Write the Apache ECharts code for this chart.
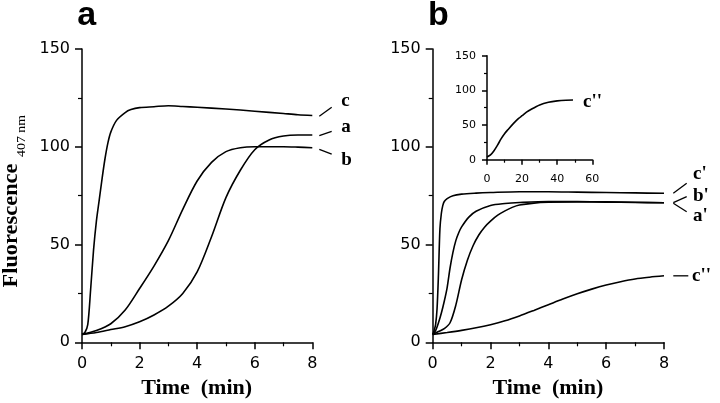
<!DOCTYPE html>
<html><head><meta charset="utf-8">
<script src="https://cdn.jsdelivr.net/npm/echarts/dist/echarts.min.js"></script>
<style>html,body{margin:0;padding:0;background:#fff}#c{width:720px;height:403px}</style>
</head><body><div id="c"></div>
<script>
// ---------- Panel a ----------
const tC = [0,0.1,0.2,0.3,0.4,0.5,0.6,0.7,0.8,0.9,1.0,1.2,1.5,1.7,2.0,2.5,3.0,3.5,4,5,6,7,7.5,8];
const vC = [4,5,9,27,47,62,73,84,94,102,107.5,113.5,117.5,119,120,120.5,121,120.6,120.2,119.3,118.2,117,116.4,116];
const tAB = [0,0.5,1,1.5,2,2.5,3,3.5,4,4.5,5,5.5,6,6.5,7,7.5,8];
const vB = [4,6,9.5,16.5,27.5,39,52,68,82.5,92,97.5,99.5,100,100,100,99.8,99.5];
const vA = [4,5,6.5,8,10.5,14,18.5,25,36,54,74,88,98.5,103.5,105.5,106,106];
// ---------- Panel b ----------
const tC1 = [0,0.05,0.1,0.15,0.2,0.25,0.3,0.35,0.4,0.5,0.7,1,1.5,2,3,4,5,6,7,8];
const vC1 = [4,6,9,17,35,58,66,70,72,73.5,75,75.8,76.3,76.6,77,77,76.8,76.6,76.4,76.2];
const tB1 = [0,0.1,0.2,0.3,0.4,0.5,0.6,0.7,0.8,0.9,1.0,1.25,1.5,2,2.5,3,4,5,6,7,8];
const vB1 = [4,6,10,15,21,28,38,46,52,56,59,64,67,70,71,71.5,72,72,71.8,71.6,71.4];
const tA1 = [0,0.2,0.4,0.6,0.8,1.0,1.2,1.4,1.6,1.8,2,2.25,2.5,2.75,3,3.5,4,5,6,7,8];
const vA1 = [4,5.5,7,10,19,32,42,49.5,55,59,62,65,67.2,69,70.2,71.2,71.6,71.8,71.7,71.5,71.4];
const tC2 = [0,0.5,1,1.5,2,2.5,3,3.5,4,4.5,5,5.5,6,6.5,7,7.5,8];
const vC2 = [4,5,6.1,7.4,9,11,13.5,16.3,19.2,22.1,24.8,27.2,29.3,31,32.4,33.3,34];
// ---------- Inset ----------
const tIn = [0,2,4,6,8,10,12,15,18,20,22.5,25,30,35,40,45,49];
const vIn = [4,7,13,21,30,37.5,43.5,52,59.5,63.5,68.5,72.5,79,82.8,84.8,85.8,86];

const panelLetters = ['a','b'];
const xTitle = 'Time  (min)';
const yTitle = 'Fluorescence';
const ySub = '407 nm';

const zip = (t, v) => t.map((x, i) => [x, v[i]]);
const chart = echarts.init(document.getElementById('c'), null, {renderer:'canvas'});

function xAx(gi, max, interval, fs, tl, ml, margin) {
  return {type:'value', gridIndex:gi, min:0, max:max, interval:interval,
    axisLine:{show:true, onZero:false, lineStyle:{color:'#000', width:1.5}},
    axisTick:{show:true, inside:false, length:tl, lineStyle:{color:'#000', width:1.5}},
    minorTick:{show:true, splitNumber:2, length:ml, lineStyle:{color:'#000', width:1.2}},
    axisLabel:{color:'#000', fontFamily:'DejaVu Sans', fontSize:fs, margin:margin, showMinLabel:true, showMaxLabel:true, hideOverlap:false},
    splitLine:{show:false}, minorSplitLine:{show:false}};
}
function yAx(gi, fs, tl, ml, margin) {
  return {type:'value', gridIndex:gi, min:0, max:150, interval:50,
    axisLine:{show:true, onZero:false, lineStyle:{color:'#000', width:1.5}},
    axisTick:{show:true, inside:false, length:tl, lineStyle:{color:'#000', width:1.5}},
    minorTick:{show:true, splitNumber:2, length:ml, lineStyle:{color:'#000', width:1.2}},
    axisLabel:{color:'#000', fontFamily:'DejaVu Sans', fontSize:fs, margin:margin, showMinLabel:true, showMaxLabel:true, hideOverlap:false},
    splitLine:{show:false}, minorSplitLine:{show:false}};
}
function ser(gi, t, v) {
  return {type:'line', xAxisIndex:gi, yAxisIndex:gi, data:zip(t, v), symbol:'none',
    smooth:0.3, lineStyle:{color:'#000', width:1.6}, silent:true};
}

chart.setOption({
  animation:false,
  backgroundColor:'#fff',
  grid:[
    {left:82, top:49, width:230.3, height:293.3},
    {left:432.7, top:49, width:231.3, height:293.3},
    {left:487, top:55.7, width:105.3, height:104}
  ],
  xAxis:[xAx(0,8,2,16,7,4,14), xAx(1,8,2,16,7,4,14), xAx(2,60,20,11,5,3,14)],
  yAxis:[yAx(0,16,7,4,12), yAx(1,16,7,4,12), yAx(2,11,5,3,11)],
  series:[
    ser(0,tC,vC), ser(0,tAB,vA), ser(0,tAB,vB),
    ser(1,tC1,vC1), ser(1,tB1,vB1), ser(1,tA1,vA1), ser(1,tC2,vC2),
    ser(2,tIn,vIn)
  ]
});

const px = (gi, p) => chart.convertToPixel({gridIndex:gi}, p);
const last = a => a[a.length-1];
const lblFont = 'bold 19px "Liberation Serif"';
const annots = [
  {gi:0, end:[last(tC), last(vC)], l:[[7,0.7],[19.4,-8.3]], txt:'c', o:[29,-14.7]},
  {gi:0, end:[last(tAB), last(vA)], l:[[7,0.7],[19.4,-3.6]], txt:'a', o:[29,-7.7]},
  {gi:0, end:[last(tAB), last(vB)], l:[[7,1.6],[19.4,6.3]], txt:'b', o:[29,11.9]},
  {gi:1, end:[last(tC1), last(vC1)], l:[[9.3,0],[22.7,-10]], txt:"c'", o:[29,-19.7]},
  {gi:1, end:[last(tB1), last(vB1)], l:[[9.3,0],[22.7,-6]], txt:"b'", o:[29,-6.1]},
  {gi:1, end:[last(tA1), last(vA1)], l:[[9.3,0.6],[22.7,9]], txt:"a'", o:[29,13.9]},
  {gi:1, end:[last(tC2), last(vC2)], l:[[9.3,0],[24.3,0]], txt:"c''", o:[28,0.6]},
  {gi:2, end:[last(tIn), last(vIn)], l:null, txt:"c''", o:[10,1.6]}
];
const g = [];
annots.forEach(a => {
  const p = px(a.gi, a.end);
  if (a.l) g.push({type:'line', silent:true, shape:{x1:p[0]+a.l[0][0], y1:p[1]+a.l[0][1], x2:p[0]+a.l[1][0], y2:p[1]+a.l[1][1]}, style:{stroke:'#000', lineWidth:1.3}});
  g.push({type:'text', silent:true, x:p[0]+a.o[0], y:p[1]+a.o[1], style:{text:a.txt, font:lblFont, fill:'#000', align:'left', verticalAlign:'middle'}});
});
// panel letters
const pa0 = px(0,[0,150]), pa1 = px(1,[0,150]);
g.push({type:'text', silent:true, x:pa0[0]-4.7, y:15.5, style:{text:panelLetters[0], font:'bold 34px "Liberation Sans"', fill:'#000', align:'left', verticalAlign:'middle'}});
g.push({type:'text', silent:true, x:pa1[0]-4.7, y:15.5, style:{text:panelLetters[1], font:'bold 34px "Liberation Sans"', fill:'#000', align:'left', verticalAlign:'middle'}});
// x titles
[0,1].forEach(gi => {
  const l = px(gi,[0,0]), r = px(gi,[8,0]);
  g.push({type:'text', silent:true, x:(l[0]+r[0])/2 - 0.5, y:389.2, scaleX:1.1, style:{text:xTitle, font:'bold 20px "Liberation Serif"', fill:'#000', align:'center', verticalAlign:'middle'}});
});
// y title
g.push({type:'text', silent:true, x:12, y:225.5, rotation:Math.PI/2, scaleX:1.12, style:{text:yTitle, font:'bold 20px "Liberation Serif"', fill:'#000', align:'center', verticalAlign:'middle'}});
g.push({type:'text', silent:true, x:21.5, y:136, rotation:Math.PI/2, scaleX:1.15, style:{text:ySub, font:'12px "Liberation Serif"', fill:'#000', align:'center', verticalAlign:'middle'}});
chart.setOption({graphic:g});
</script>
</body></html>
